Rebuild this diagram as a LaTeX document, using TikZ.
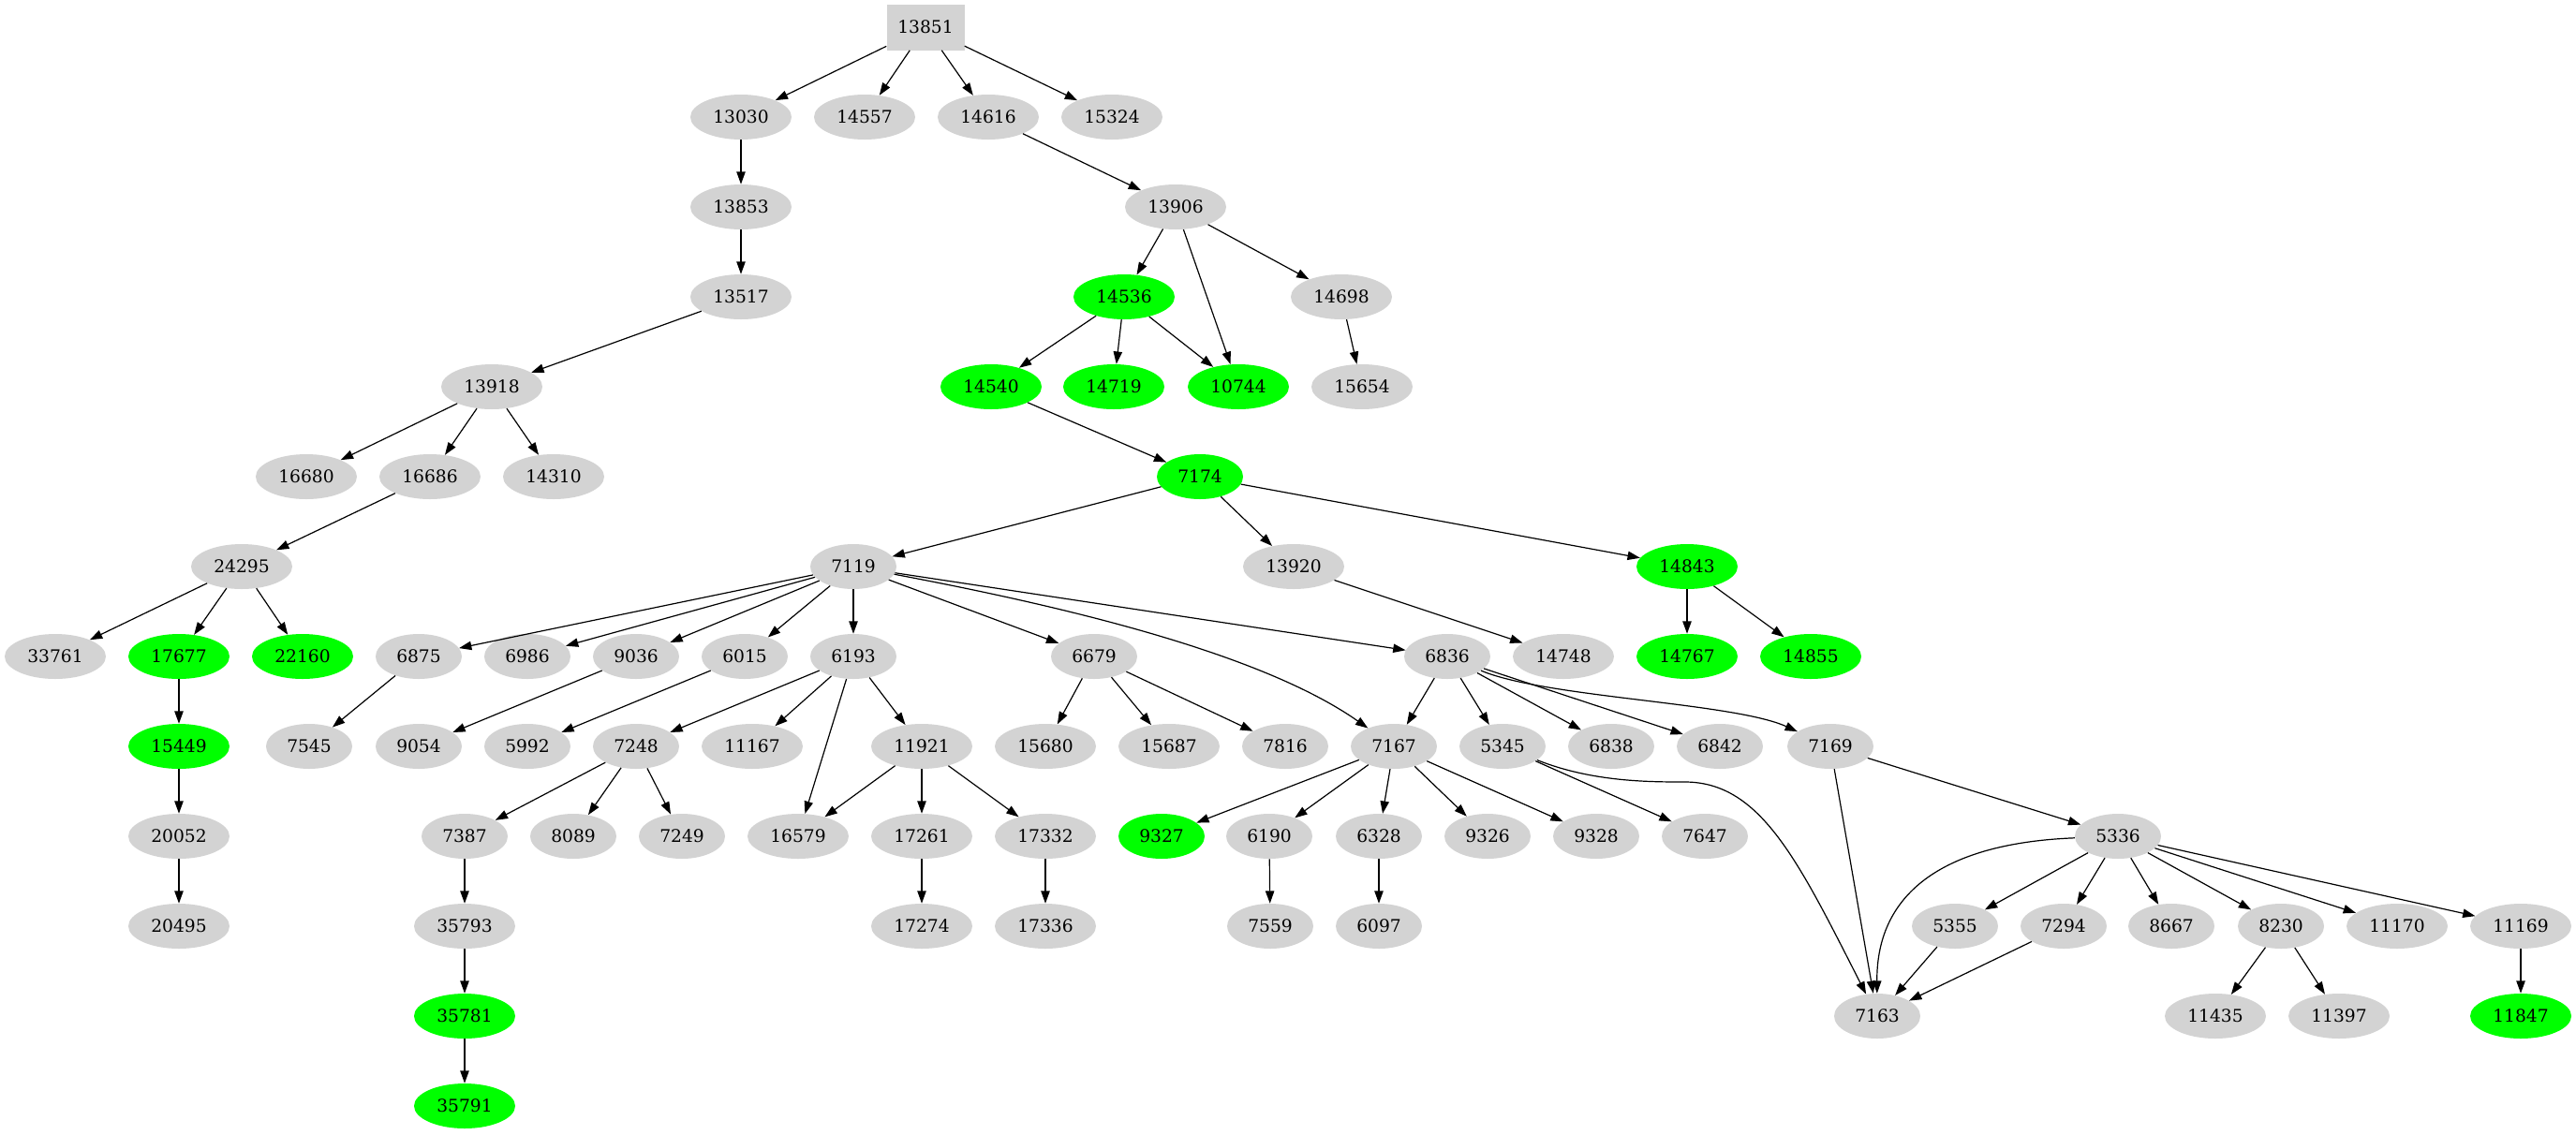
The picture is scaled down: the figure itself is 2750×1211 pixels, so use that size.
\documentclass[tikz,border=0pt]{standalone}
\usepackage{fontspec}
\setmainfont{DejaVu Serif}
\usetikzlibrary{shapes.geometric,arrows.meta}
\definecolor{gr}{HTML}{D3D3D3}
\definecolor{grn}{HTML}{00FF00}
\tikzset{
  nbase/.style={ellipse, fill=gr, inner sep=0pt, minimum height=36pt, font=\fontsize{14pt}{16pt}\selectfont},
  g5/.style={nbase, minimum width=81pt},
  g4/.style={nbase, minimum width=69pt},
  e5/.style={g5, fill=grn},
  e4/.style={g4, fill=grn},
  rootbox/.style={rectangle, fill=gr, inner sep=0pt, minimum width=62.25pt, minimum height=36.75pt, font=\fontsize{14pt}{16pt}\selectfont},
  edge/.style={draw=black, line width=0.9pt, -{Triangle[length=10pt,width=7pt]}}
}
\begin{document}
\begin{tikzpicture}[x=0.75pt,y=-0.75pt]
\useasboundingbox (0,0) rectangle (2750,1211);
% nodes
\node[rootbox] (n13851) at (988,29) {13851};
\node[g5] (n13030) at (791,125) {13030};
\node[g5] (n14557) at (923,125) {14557};
\node[g5] (n14616) at (1055,125) {14616};
\node[g5] (n15324) at (1187,125) {15324};
\node[g5] (n13853) at (791,221) {13853};
\node[g5] (n13906) at (1255,221) {13906};
\node[g5] (n13517) at (791,317) {13517};
\node[e5] (n14536) at (1200,317) {14536};
\node[g5] (n14698) at (1432,317) {14698};
\node[g5] (n13918) at (525,413) {13918};
\node[e5] (n14540) at (1058,413) {14540};
\node[e5] (n14719) at (1189,413) {14719};
\node[e5] (n10744) at (1322,413) {10744};
\node[g5] (n15654) at (1454,413) {15654};
\node[g5] (n16680) at (327,509) {16680};
\node[g5] (n16686) at (459,509) {16686};
\node[g5] (n14310) at (591,509) {14310};
\node[e4] (n7174) at (1281,509) {7174};
\node[g5] (n24295) at (258,605) {24295};
\node[g4] (n7119) at (911,605) {7119};
\node[g5] (n13920) at (1381,605) {13920};
\node[e5] (n14843) at (1801,605) {14843};
\node[g5] (n33761) at (59,701) {33761};
\node[e5] (n17677) at (191,701) {17677};
\node[e5] (n22160) at (323,701) {22160};
\node[g4] (n6875) at (447,701) {6875};
\node[g4] (n6986) at (563,701) {6986};
\node[g4] (n9036) at (679,701) {9036};
\node[g4] (n6015) at (795,701) {6015};
\node[g4] (n6193) at (911,701) {6193};
\node[g4] (n6679) at (1168,701) {6679};
\node[g4] (n6836) at (1545,701) {6836};
\node[g5] (n14748) at (1669,701) {14748};
\node[e5] (n14767) at (1801,701) {14767};
\node[e5] (n14855) at (1933,701) {14855};
\node[e5] (n15449) at (191,797) {15449};
\node[g4] (n7545) at (330,797) {7545};
\node[g4] (n9054) at (447,797) {9054};
\node[g4] (n5992) at (563,797) {5992};
\node[g4] (n7248) at (679,797) {7248};
\node[g5] (n11167) at (803,797) {11167};
\node[g5] (n11921) at (984,797) {11921};
\node[g5] (n15680) at (1116,797) {15680};
\node[g5] (n15687) at (1248,797) {15687};
\node[g4] (n7816) at (1372,797) {7816};
\node[g4] (n7167) at (1488,797) {7167};
\node[g4] (n5345) at (1604,797) {5345};
\node[g4] (n6838) at (1720,797) {6838};
\node[g4] (n6842) at (1836,797) {6842};
\node[g4] (n7169) at (1954,797) {7169};
\node[g5] (n20052) at (191,893) {20052};
\node[g4] (n7387) at (496,893) {7387};
\node[g4] (n8089) at (612,893) {8089};
\node[g4] (n7249) at (728,893) {7249};
\node[g5] (n16579) at (852,893) {16579};
\node[g5] (n17261) at (984,893) {17261};
\node[g5] (n17332) at (1116,893) {17332};
\node[e4] (n9327) at (1240,893) {9327};
\node[g4] (n6190) at (1355,893) {6190};
\node[g4] (n6328) at (1472,893) {6328};
\node[g4] (n9326) at (1588,893) {9326};
\node[g4] (n9328) at (1704,893) {9328};
\node[g4] (n7647) at (1820,893) {7647};
\node[g4] (n5336) at (2261,893) {5336};
\node[g5] (n20495) at (191,989) {20495};
\node[g5] (n35793) at (496,989) {35793};
\node[g5] (n17274) at (984,989) {17274};
\node[g5] (n17336) at (1116,989) {17336};
\node[g4] (n7559) at (1356,989) {7559};
\node[g4] (n6097) at (1472,989) {6097};
\node[g4] (n5355) at (2087,989) {5355};
\node[g4] (n7294) at (2203,989) {7294};
\node[g4] (n8667) at (2318,989) {8667};
\node[g4] (n8230) at (2435,989) {8230};
\node[g5] (n11170) at (2559,989) {11170};
\node[g5] (n11169) at (2691,989) {11169};
\node[e5] (n35781) at (496,1085) {35781};
\node[g4] (n7163) at (2004,1085) {7163};
\node[g5] (n11435) at (2365,1085) {11435};
\node[g5] (n11397) at (2497,1085) {11397};
\node[e5] (n11847) at (2691,1085) {11847};
\node[e5] (n35791) at (496,1181) {35791};
% edges
\foreach \a/\b in {13851/13030,13851/14557,13851/14616,13851/15324,
  13030/13853,13853/13517,13517/13918,13918/16680,13918/16686,13918/14310,
  16686/24295,24295/33761,24295/17677,24295/22160,17677/15449,15449/20052,20052/20495,
  14616/13906,13906/14536,13906/10744,13906/14698,14536/14540,14536/14719,14536/10744,
  14698/15654,14540/7174,7174/7119,7174/13920,7174/14843,13920/14748,14843/14767,14843/14855,
  7119/6875,7119/6986,7119/9036,7119/6015,7119/6193,7119/6679,7119/6836,
  6875/7545,9036/9054,6015/5992,6193/7248,6193/11167,6193/16579,6193/11921,
  6679/15680,6679/15687,6679/7816,6836/7167,6836/5345,6836/6838,6836/6842,
  7248/7387,7248/8089,7248/7249,11921/16579,11921/17261,11921/17332,
  7167/9327,7167/6190,7167/6328,7167/9326,7167/9328,5345/7647,
  7169/7163,7169/5336,7387/35793,35793/35781,35781/35791,17261/17274,17332/17336,
  6190/7559,6328/6097,5336/5355,5336/7294,5336/8667,5336/8230,5336/11170,5336/11169,
  5355/7163,7294/7163,8230/11435,8230/11397,11169/11847}
  {\draw[edge] (n\a) -- (n\b);}
% curved edges
\draw[edge] (n7119) .. controls (1150,650) and (1350,700) .. (n7167);
\draw[edge] (n6836) .. controls (1650,745) and (1850,750) .. (n7169);
\draw[edge] (n5345) .. controls (1700,835) and (1760,835) .. (1800,835) .. controls (1880,836) and (1920,920) .. (n7163);
\draw[edge] (n5336) .. controls (2080,900) and (2003,950) .. (n7163);
\end{tikzpicture}
\end{document}
